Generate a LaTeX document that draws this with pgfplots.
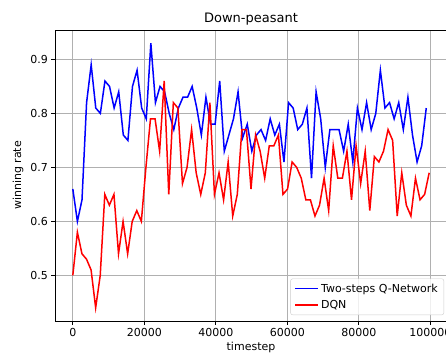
\documentclass[border=0pt]{standalone}
\usepackage{fontspec}
\setmainfont{DejaVu Sans}
\usepackage{pgfplots}
\pgfplotsset{compat=1.18}
\definecolor{gridgray}{HTML}{B0B0B0}
\definecolor{legframe}{HTML}{CCCCCC}
\begin{document}
\begin{tikzpicture}[x=1pt,y=1pt]
\begin{axis}[
  at={(55pt,33pt)}, anchor=south west,
  scale only axis, width=392pt, height=291pt,
  xmin=-4984, xmax=104668, ymin=0.4155, ymax=0.9545,
  xtick={0,20000,40000,60000,80000,100000},
  ytick={0.5,0.6,0.7,0.8,0.9},
  yticklabels={0.5,0.6,0.7,0.8,0.9},
  xticklabels={0,20000,40000,60000,80000,100000},
  scaled x ticks=false, scaled y ticks=false,
  tick pos=left, tick align=outside,
  major tick length=3.5pt,
  every tick/.style={black, line width=0.8pt},
  axis line style={black, line width=0.8pt},
  grid=major, grid style={gridgray, line width=0.8pt},
  /pgf/number format/assume math mode=true,
  ticklabel style={font=\fontsize{11}{13}\selectfont},
  title={Down-peasant},
  title style={at={(axis description cs:0.5,1)}, anchor=base, yshift=1.3pt, font=\fontsize{13}{15}\selectfont},
  xlabel={timestep},
  xlabel style={at={(axis description cs:0.5,0)}, anchor=base, yshift=-29.5pt, font=\fontsize{11}{13}\selectfont},
  ylabel={winning rate},
  ylabel style={at={(axis description cs:-0.0944,0.5)}, anchor=center, font=\fontsize{11}{13}\selectfont},
  legend style={at={(axis description cs:1,0)}, anchor=south east, xshift=-3pt, yshift=6pt,
    draw=legframe, fill=white, fill opacity=0.8, text opacity=1, rounded corners=2pt,
    font=\fontsize{11}{13}\selectfont, row sep=2.5pt, inner xsep=4pt, inner ysep=3pt},
  legend cell align=left,
  legend image post style={line width=1.5pt},
  legend image code/.code={\draw[#1] (0pt,0pt) -- (23pt,0pt);},
]
\addplot[blue, line width=1.5pt] coordinates {
(0,0.66) (1284,0.60) (2568,0.64) (3852,0.82) (5136,0.89) (6420,0.81) (7704,0.80) (8988,0.86)
(10272,0.85) (11556,0.81) (12840,0.84) (14124,0.76) (15408,0.75) (16692,0.85) (17976,0.88) (19260,0.81)
(20544,0.79) (21828,0.93) (23112,0.82) (24396,0.85) (25680,0.84) (26964,0.80) (28248,0.77) (29532,0.81)
(30816,0.83) (32100,0.83) (33384,0.85) (34668,0.81) (35952,0.76) (37236,0.83) (38520,0.78) (39804,0.78)
(41088,0.86) (42372,0.73) (43656,0.76) (44940,0.79) (46224,0.84) (47508,0.755) (48792,0.78) (50076,0.73)
(51360,0.76) (52644,0.77) (53928,0.75) (55212,0.79) (56496,0.76) (57780,0.78) (59064,0.71) (60348,0.82)
(61632,0.81) (62916,0.77) (64200,0.78) (65484,0.81) (66768,0.68) (68052,0.84) (69336,0.79) (70620,0.70)
(71904,0.77) (73188,0.77) (74472,0.77) (75756,0.73) (77040,0.78) (78324,0.71) (79608,0.81) (80892,0.77)
(82176,0.82) (83460,0.77) (84744,0.80) (86028,0.88) (87312,0.81) (88596,0.82) (89880,0.79) (91164,0.82)
(92448,0.77) (93732,0.83) (95016,0.76) (96300,0.71) (97584,0.74) (98868,0.81)
};
\addlegendentry{Two-steps Q-Network}
\addplot[red, line width=1.5pt] coordinates {
(0,0.50) (1278,0.58) (2556,0.54) (3834,0.53) (5112,0.51) (6390,0.44) (7668,0.50) (8946,0.65)
(10224,0.63) (11502,0.65) (12780,0.54) (14058,0.60) (15336,0.54) (16614,0.60) (17892,0.62) (19170,0.60)
(20448,0.70) (21726,0.79) (23004,0.79) (24282,0.73) (25560,0.86) (26838,0.65) (28116,0.82) (29394,0.81)
(30672,0.67) (31950,0.70) (33228,0.77) (34506,0.69) (35784,0.65) (37062,0.69) (38340,0.82) (39618,0.65)
(40896,0.69) (42174,0.64) (43452,0.71) (44730,0.61) (46008,0.65) (47286,0.77) (48564,0.77) (49842,0.66)
(51120,0.76) (52398,0.73) (53676,0.68) (54954,0.74) (56232,0.74) (57510,0.76) (58788,0.65) (60066,0.66)
(61344,0.71) (62622,0.70) (63900,0.68) (65178,0.64) (66456,0.64) (67734,0.61) (69012,0.63) (70290,0.68)
(71568,0.62) (72846,0.74) (74124,0.68) (75402,0.68) (76680,0.73) (77958,0.64) (79236,0.74) (80514,0.67)
(81792,0.73) (83070,0.62) (84348,0.72) (85626,0.71) (86904,0.73) (88182,0.77) (89460,0.75) (90738,0.61)
(92016,0.69) (93294,0.63) (94572,0.61) (95850,0.68) (97128,0.64) (98406,0.65) (99684,0.69)
};
\addlegendentry{DQN}
\end{axis}
\pgfresetboundingbox
\path[use as bounding box] (0pt,0pt) rectangle (446pt,354pt);
\end{tikzpicture}
\end{document}
